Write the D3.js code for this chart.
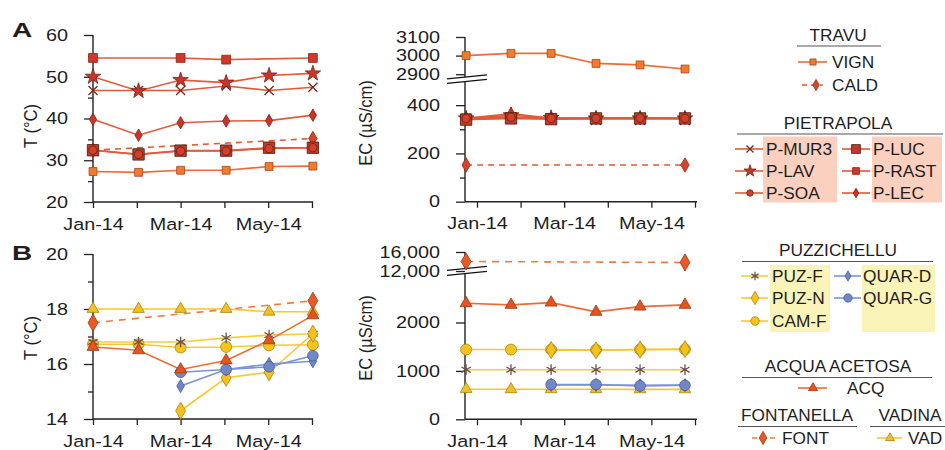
<!DOCTYPE html>
<html><head><meta charset="utf-8">
<script src="https://cdn.jsdelivr.net/npm/d3@7"></script>
<style>
body{margin:0;background:#fff}
text{font-family:"Liberation Sans",Arial,sans-serif;fill:#1e1e1e}
</style>
</head><body>
<svg id="c" width="945" height="450"></svg>
<script>
// ---------- DATA ----------
const monthTicks = [0,1,2,3,4,5];
const monthLabels = ["Jan-14","","Mar-14","","May-14",""];
const tDates  = [0, 1.04, 2, 3.04, 4.02, 5.02];      // temperature sampling (month index)
const ecDates = [-0.25, 0.78, 1.7, 2.73, 3.74, 4.77]; // EC sampling (month index)

// Panel A – temperature (°C)
const tVIGN  = [27.3, 27.1, 27.6, 27.6, 28.5, 28.6];
const tCALD  = [32.4, null, null, null, null, 35.2];
const tPMUR3 = [46.7, 46.7, 46.7, 47.8, 46.7, 47.5];
const tPLAV  = [50.0, 46.6, 49.2, 48.6, 50.3, 50.8];
const tPSOA  = [32.4, 31.4, 32.2, 32.2, 32.8, 33.0];
const tPLUC  = [32.4, 31.4, 32.3, 32.3, 33.0, 33.0];
const tPRAST = [54.5, null, 54.5, 54.1, null, 54.5];
const tPLEC  = [39.8, 36.0, 39.0, 39.4, 39.5, 40.8];

// Panel A – EC (µS/cm)
const ecVIGN  = [3000, 3012, 3012, 2958, 2950, 2928];
const ecCALD  = [152, null, null, null, null, 152];
const ecPMUR3 = [345, 350, 345, 345, 345, 345];
const ecPLAV  = [345, 358, 347, 345, 345, 345];
const ecPSOA  = [345, 350, 345, 345, 347, 345];
const ecPLUC  = [340, 345, 342, 345, 345, 345];
const ecPRAST = [345, null, 345, 345, null, 345];
const ecPLEC  = [345, 365, 345, 345, 345, 345];

// Panel B – temperature (°C)
const tVAD   = [18.0, 18.0, 18.0, 18.0, 17.9, 17.9];
const tFONT  = [17.5, null, null, null, null, 18.3];
const tPUZF  = [16.8, 16.8, 16.8, 16.95, 17.05, 17.1];
const tCAMF  = [16.72, 16.72, 16.6, 16.62, 16.68, 16.7];
const tPUZN  = [null, null, 14.3, 15.5, 15.7, 17.1];
const tACQ   = [16.62, 16.5, 15.8, 16.13, 16.86, 17.77];
const tQUARD = [null, null, 15.2, 15.8, 16.0, 16.1];
const tQUARG = [null, null, 15.7, 15.8, 15.9, 16.3];

// Panel B – EC (µS/cm)
const ecFONT  = [14000, null, null, null, null, 13800];
const ecACQ   = [2398, 2363, 2410, 2219, 2328, 2363];
const ecCAMF  = [1441, 1441, 1441, 1435, 1441, 1445];
const ecPUZN  = [null, null, 1430, 1425, 1440, 1450];
const ecPUZF  = [1025, 1025, 1025, 1025, 1025, 1025];
const ecQUARD = [null, null, 712, 710, 700, 705];
const ecQUARG = [null, null, 718, 718, 690, 703];
const ecVAD   = [622, 620, 620, 620, 618, 618];

// Axis tick values / labels
const tA_ticks = [20,30,40,50,60], tA_minor = [25,35,45,55];
const ecA_ticks = [0,200,400,2900,3000,3100], ecA_labels = ["0","200","400","2900","3000","3100"], ecA_minor = [100,300];
const tB_ticks = [14,16,18,20], tB_minor = [15,17,19];
const ecB_ticks = [0,1000,2000,12000,16000], ecB_labels = ["0","1000","2000","12,000","16,000"];

// ---------- STYLES ----------
const RED_LINE = "#e35a38";
const styles = {
  "VIGN":  {line:"#ee6a36", fill:"#f47a2c", stroke:"#a8421c", sym:"square",  size:62},
  "CALD":  {line:"#e4582e", fill:"#d9432a", stroke:"#8a2a18", sym:"diamond", size:60, dash:"6,5"},
  "P-MUR3":{line:RED_LINE,  fill:"none",    stroke:"#7a2a1a", sym:"x",       size:55},
  "P-LAV": {line:RED_LINE,  fill:"#c8352a", stroke:"#7a2218", sym:"star",    size:75},
  "P-SOA": {line:RED_LINE,  fill:"#d2402a", stroke:"#6a1e14", sym:"circle",  size:55},
  "P-LUC": {line:RED_LINE,  fill:"#c03a2a", stroke:"#4a1a10", sym:"square",  size:130},
  "P-RAST":{line:RED_LINE,  fill:"#d2382a", stroke:"#8a2218", sym:"square",  size:78},
  "P-LEC": {line:RED_LINE,  fill:"#c8352a", stroke:"#7a2218", sym:"diamond", size:45},
  "PUZ-F": {line:"#f8cc3c", fill:"none",    stroke:"#6e5240", sym:"asterisk",size:80},
  "PUZ-N": {line:"#f8c830", fill:"#f6c21a", stroke:"#a88418", sym:"diamond", size:85},
  "CAM-F": {line:"#f8c830", fill:"#f8c41c", stroke:"#a88418", sym:"circle",  size:95},
  "QUAR-D":{line:"#7b92d8", fill:"#6f86c8", stroke:"#4a5a98", sym:"diamond", size:50},
  "QUAR-G":{line:"#7b92d8", fill:"#7088c8", stroke:"#4a5a98", sym:"circle",  size:90},
  "ACQ":   {line:"#ee6a35", fill:"#e8521e", stroke:"#9a3a18", sym:"triangle",size:62},
  "FONT":  {line:"#f07a40", fill:"#e85a25", stroke:"#9a3a18", sym:"diamond", size:85, dash:"7,6"},
  "VAD":   {line:"#f8c828", fill:"#f4c01c", stroke:"#a88418", sym:"triangle",size:60}
};
const symMap = {square:d3.symbolSquare, diamond:d3.symbolDiamond, star:d3.symbolStar,
  circle:d3.symbolCircle, triangle:d3.symbolTriangle, x:(d3.symbolX||d3.symbolTimes||d3.symbolCross),
  asterisk:(d3.symbolAsterisk||d3.symbolCross)};
const strokeSyms = new Set(["x","asterisk"]);

const svg = d3.select("#c");
const TICK_SX = 1.2;

function marker(g, name, x, y, scale){
  const s = styles[name];
  const p = g.append("path")
    .attr("d", d3.symbol().type(symMap[s.sym]).size(s.size*(scale||1))())
    .attr("transform", `translate(${x},${y})`);
  if (strokeSyms.has(s.sym)) p.attr("fill","none").attr("stroke", s.stroke).attr("stroke-width",1.3);
  else p.attr("fill", s.fill).attr("stroke", s.stroke).attr("stroke-width",0.8);
}

function drawSeries(g, xs, ys, dates, list){
  list.forEach(([name, vals]) => {
    const s = styles[name];
    const pts = vals.map((v,i)=>({x:dates[i], y:v})).filter(d=>d.y!=null);
    g.append("path").datum(pts)
      .attr("d", d3.line().x(d=>xs(d.x)).y(d=>ys(d.y)))
      .attr("fill","none").attr("stroke", s.line).attr("stroke-width",1.6)
      .attr("stroke-dasharray", s.dash||null);
  });
  list.forEach(([name, vals]) => {
    vals.forEach((v,i)=>{ if(v!=null) marker(g, name, xs(dates[i]), ys(v)); });
  });
}

function yAxis(x0, ys, ticks, labels, minor){
  const g = svg.append("g").attr("transform",`translate(${x0},0)`);
  g.call(d3.axisLeft(ys).tickValues(ticks).tickFormat((d,i)=>labels?labels[i]:d3.format("d")(d))
      .tickSize(9).tickPadding(11.8));
  g.select(".domain").remove();
  g.selectAll("text").attr("font-size",16.5).attr("font-family","Liberation Sans, Arial, sans-serif")
    .attr("fill","#1e1e1e").attr("transform",`scale(${TICK_SX},1)`);
  g.selectAll("line").attr("stroke","#222").attr("stroke-width",1.3);
  if (minor){
    const m = svg.append("g").attr("transform",`translate(${x0},0)`);
    m.call(d3.axisLeft(ys).tickValues(minor).tickFormat("").tickSize(5));
    m.select(".domain").remove();
    m.selectAll("line").attr("stroke","#222").attr("stroke-width",1.3);
  }
  return g;
}
function vline(x, y1, y2){
  svg.append("line").attr("x1",x).attr("x2",x).attr("y1",y1).attr("y2",y2)
    .attr("stroke","#222").attr("stroke-width",1.4);
}
function xAxis(y0, xs, xStart, xEnd){
  const g = svg.append("g").attr("transform",`translate(0,${y0})`);
  g.call(d3.axisBottom(xs).tickValues(monthTicks).tickFormat((d,i)=>monthLabels[i])
      .tickSize(6).tickPadding(10));
  g.select(".domain").remove();
  g.selectAll("text").attr("font-size",16.5).attr("font-family","Liberation Sans, Arial, sans-serif")
    .attr("fill","#1e1e1e").attr("transform",`scale(${TICK_SX},1)`);
  g.selectAll("line").attr("stroke","#222").attr("stroke-width",1.3);
  svg.append("line").attr("x1",xStart).attr("x2",xEnd).attr("y1",y0).attr("y2",y0)
    .attr("stroke","#222").attr("stroke-width",1.4);
}
function breakMarks(x0, yTop, yBot){
  [yTop, yBot].forEach(y=>{
    svg.append("line").attr("x1",x0-18).attr("y1",y+1.8).attr("x2",x0+22).attr("y2",y-2.2)
      .attr("stroke","#111").attr("stroke-width",1.3);
  });
}
function yTitle(txt, x, y){
  svg.append("text").attr("transform",`translate(${x},${y}) rotate(-90) scale(1,1.15)`)
    .attr("text-anchor","middle").attr("font-size",16.5).text(txt);
}
function panelLabel(txt, x, y){
  svg.append("text").attr("transform",`translate(${x},${y}) scale(1.4,1)`)
    .attr("font-size",20).attr("font-weight","bold").text(txt);
}

// ---------- SCALES ----------
const xT  = d3.scaleLinear().domain([0,5]).range([93,312]);
const xEC = d3.scaleLinear().domain([0,5]).range([477,695]);
const yTA  = d3.scaleLinear().domain([20,60]).range([202,35]);
const yECA = d3.scaleLinear().domain([0,500,2885,3100]).range([201.7,81,77,37]);
const yTB  = d3.scaleLinear().domain([14,20]).range([419,254]);
const yECB = d3.scaleLinear().domain([0,2950,12000,16000]).range([419.3,276.5,271,252]);

// ---------- PANEL A ----------
panelLabel("A", 12, 37);
yTitle("T (°C)", 37, 126);
vline(93, yTA(20), yTA(60));
yAxis(93, yTA, tA_ticks, null, tA_minor);
xAxis(202, xT, 93, 313);
drawSeries(svg.append("g"), xT, yTA, tDates, [
  ["VIGN", tVIGN], ["CALD", tCALD], ["P-MUR3", tPMUR3], ["P-LAV", tPLAV],
  ["P-LEC", tPLEC], ["P-RAST", tPRAST], ["P-LUC", tPLUC], ["P-SOA", tPSOA]
]);

yTitle("EC (µS/cm)", 372, 123);
vline(465, yECA(0), 81);
vline(465, 77, yECA(3100));
yAxis(465, yECA, ecA_ticks, ecA_labels, ecA_minor);
breakMarks(465, 77, 81.5);
xAxis(201.7, xEC, 465, 697);
drawSeries(svg.append("g"), xEC, yECA, ecDates, [
  ["VIGN", ecVIGN], ["CALD", ecCALD], ["P-MUR3", ecPMUR3], ["P-LAV", ecPLAV],
  ["P-LEC", ecPLEC], ["P-RAST", ecPRAST], ["P-LUC", ecPLUC], ["P-SOA", ecPSOA]
]);

// ---------- PANEL B ----------
panelLabel("B", 12, 260);
yTitle("T (°C)", 37, 338);
vline(93, yTB(14), yTB(20));
yAxis(93, yTB, tB_ticks, null, tB_minor);
xAxis(419, xT, 93, 313);
drawSeries(svg.append("g"), xT, yTB, tDates, [
  ["VAD", tVAD], ["FONT", tFONT], ["CAM-F", tCAMF], ["PUZ-F", tPUZF], ["PUZ-N", tPUZN],
  ["QUAR-D", tQUARD], ["QUAR-G", tQUARG], ["ACQ", tACQ]
]);

yTitle("EC (µS/cm)", 372, 338);
vline(465, yECB(0), 274);
vline(465, 269, yECB(16000));
yAxis(465, yECB, ecB_ticks, ecB_labels, null);
breakMarks(465, 268.5, 273.5);
xAxis(419.3, xEC, 465, 697);
drawSeries(svg.append("g"), xEC, yECB, ecDates, [
  ["FONT", ecFONT], ["ACQ", ecACQ], ["VAD", ecVAD], ["QUAR-D", ecQUARD], ["QUAR-G", ecQUARG],
  ["PUZ-F", ecPUZF], ["CAM-F", ecCAMF], ["PUZ-N", ecPUZN]
]);

// ---------- LEGENDS ----------
const LEG_SX = 1.08;
function legText(txt, x, y, anchor){
  svg.append("text").attr("transform",`translate(${x},${y}) scale(${LEG_SX},1)`)
    .attr("font-size",16).attr("text-anchor",anchor||"start").text(txt);
}
function legHeader(txt, cx, y, u1, u2){
  legText(txt, cx, y, "middle");
  svg.append("line").attr("x1",u1).attr("x2",u2).attr("y1",y+5.5).attr("y2",y+5.5)
    .attr("stroke","#555").attr("stroke-width",1.2);
}
function legItem(name, l1, l2, mx, y, tx){
  const s = styles[name];
  svg.append("line").attr("x1",l1).attr("x2",l2).attr("y1",y).attr("y2",y)
    .attr("stroke",s.line).attr("stroke-width",1.6).attr("stroke-dasharray", s.dash?"5,4":null);
  marker(svg, name, mx, y, 0.6);
  legText(name, tx, y+6);
}

// boxes
svg.append("rect").attr("x",763).attr("y",136.5).attr("width",74).attr("height",66).attr("fill","#fbd0be");
svg.append("rect").attr("x",872).attr("y",136.5).attr("width",70).attr("height",66).attr("fill","#fbd0be");
svg.append("rect").attr("x",770).attr("y",265).attr("width",60).attr("height",67).attr("fill","#fbf4b8");
svg.append("rect").attr("x",862).attr("y",265).attr("width",73).attr("height",67).attr("fill","#fbf4b8");

legHeader("TRAVU", 838, 40.5, 797, 881);
legItem("VIGN", 798, 827, 813, 62, 832);
legItem("CALD", 802, 823, 816, 85, 832);

legHeader("PIETRAPOLA", 838, 128.5, 737, 943);
legItem("P-MUR3", 735, 763, 750, 149, 766);
legItem("P-LAV",  735, 763, 750, 171, 766);
legItem("P-SOA",  735, 763, 750, 193, 766);
legItem("P-LUC",  842, 870, 856, 149, 873);
legItem("P-RAST", 842, 870, 856, 171, 873);
legItem("P-LEC",  842, 870, 856, 193, 873);

legHeader("PUZZICHELLU", 838, 256, 742, 933);
legItem("PUZ-F", 741, 768, 755, 276, 772);
legItem("PUZ-N", 741, 768, 755, 298, 772);
legItem("CAM-F", 741, 768, 755, 321, 772);
legItem("QUAR-D", 834, 861, 848, 276, 863);
legItem("QUAR-G", 834, 861, 848, 298, 863);

legHeader("ACQUA ACETOSA", 838, 372, 742, 932);
legItem("ACQ", 798, 827, 813, 388, 847);

legHeader("FONTANELLA", 797, 421, 738, 857);
legHeader("VADINA", 910, 421, 870, 945);
legItem("FONT", 752, 775, 763, 438, 782);
legItem("VAD", 877, 902, 890, 438, 908);
</script>
</body></html>
